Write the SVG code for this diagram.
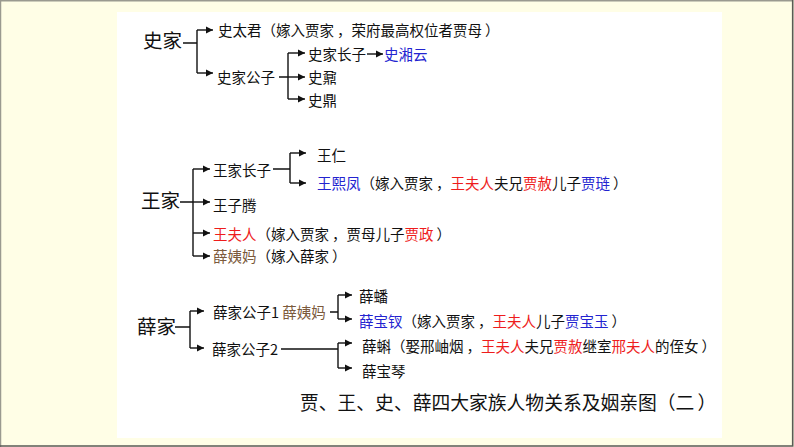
<svg xmlns="http://www.w3.org/2000/svg" width="794" height="447" viewBox="0 0 794 447">
<style>
text{font-family:"Noto Sans CJK SC","Microsoft YaHei",sans-serif;font-size:14.5px;fill:#111}
.fam{font-size:19.5px}
.title{font-size:18.8px}
.b{fill:#2323d0}
.r{fill:#ee1c1c}
.br{fill:#7b5a3c}
.ln{fill:none;stroke:#111;stroke-width:1.4}
.ar{fill:none;stroke:#111;stroke-width:1.4;marker-end:url(#ah)}
</style>
<defs>
<marker id="ah" markerUnits="userSpaceOnUse" markerWidth="8" markerHeight="8" refX="7" refY="4" orient="auto">
<path d="M0,0.5 L7,4 L0,7.5 Z" fill="#111"/>
</marker>
</defs>
<rect x="0" y="0" width="794" height="447" fill="#fffee6"/>
<rect x="117" y="12" width="605" height="426" fill="#ffffff"/>
<path d="M0.5,447 V0.8 H793" fill="none" stroke="#9a9a90" stroke-width="1.5"/>
<path d="M0,446 H792.7 V0" fill="none" stroke="#5a5a55" stroke-width="1.6"/>

<g id="connectors">
<path class="ln" d="M183,43 H197 M197,30 V73"/>
<path class="ar" d="M197,30 H213"/>
<path class="ar" d="M197,73 H213"/>
<path class="ln" d="M279,77 H288 M288,53 V99"/>
<path class="ar" d="M288,53 H305"/>
<path class="ar" d="M288,77 H305"/>
<path class="ar" d="M288,99 H305"/>
<path class="ar" d="M367,54 H383"/>

<path class="ln" d="M180,202 H193 M193,169 V256"/>
<path class="ar" d="M193,169 H210"/>
<path class="ar" d="M193,202 H210"/>
<path class="ar" d="M193,233 H210"/>
<path class="ar" d="M193,256 H210"/>
<path class="ln" d="M273,169 H290 M290,153 V183"/>
<path class="ar" d="M290,153 H306"/>
<path class="ar" d="M290,183 H306"/>

<path class="ln" d="M175,327 H190 M190,311 V348"/>
<path class="ar" d="M190,311 H204"/>
<path class="ar" d="M190,348 H204"/>
<path class="ln" d="M330,312 H338 M338,295 V319"/>
<path class="ar" d="M338,295 H352"/>
<path class="ar" d="M338,319 H352"/>
<path class="ln" d="M281,349 H338 M338,343 V368"/>
<path class="ar" d="M338,343 H352"/>
<path class="ar" d="M338,368 H352"/>
</g>

<g id="shi">
<text id="shijia" class="fam" x="143" y="48">史家</text>
<text id="shitaijun" x="218" y="35.5">史太君（嫁入贾家<tspan dx="3">，</tspan>荣府最高权位者贾母<tspan dx="3">）</tspan></text>
<text id="shijiagongzi" x="217" y="83">史家公子</text>
<text id="shijiazhangzi" x="308" y="59.5">史家长子</text>
<text id="shixiangyun" class="b" x="384" y="59.5">史湘云</text>
<text id="shinai" x="308" y="82.5">史鼐</text>
<text id="shiding" x="308" y="105.5">史鼎</text>
</g>

<g id="wang">
<text id="wangjia" class="fam" x="141" y="208">王家</text>
<text id="wangjiazhangzi" x="213" y="175.5">王家长子</text>
<text id="wangren" x="317" y="160.5">王仁</text>
<text id="wangxifeng" x="317" y="188.5"><tspan class="b">王熙凤</tspan>（嫁入贾家<tspan dx="3">，</tspan><tspan class="r">王夫人</tspan>夫兄<tspan class="r">贾赦</tspan>儿子<tspan class="b">贾琏</tspan><tspan dx="3">）</tspan></text>
<text id="wangziteng" x="213" y="210.5">王子腾</text>
<text id="wangfuren" x="213" y="239.5"><tspan class="r">王夫人</tspan>（嫁入贾家<tspan dx="3">，</tspan>贾母儿子<tspan class="r">贾政</tspan><tspan dx="3">）</tspan></text>
<text id="xueyima1" x="213" y="261.5"><tspan class="br">薛姨妈</tspan>（嫁入薛家<tspan dx="3">）</tspan></text>
</g>

<g id="xue">
<text id="xuejia" class="fam" x="137" y="334">薛家</text>
<text id="xuejiagongzi1" x="213" y="317.5">薛家公子1 <tspan class="br">薛姨妈</tspan></text>
<text id="xuepan" x="359" y="301.5">薛蟠</text>
<text id="xuebaochai" x="359" y="326.5"><tspan class="b">薛宝钗</tspan>（嫁入贾家<tspan dx="3">，</tspan><tspan class="r">王夫人</tspan>儿子<tspan class="b">贾宝玉</tspan><tspan dx="3">）</tspan></text>
<text id="xuejiagongzi2" x="212" y="354.5">薛家公子2</text>
<text id="xueke" x="362" y="351.5">薛蝌（娶邢岫烟<tspan dx="3">，</tspan><tspan class="r">王夫人</tspan>夫兄<tspan class="r">贾赦</tspan>继室<tspan class="r">邢夫人</tspan>的侄女<tspan dx="3">）</tspan></text>
<text id="xuebaoqin" x="362" y="376.5">薛宝琴</text>
</g>

<g id="caption">
<text class="title" x="300" y="410">贾、王、史、薛四大家族人物关系及姻亲图（二<tspan dx="3">）</tspan></text>
</g>
</svg>
